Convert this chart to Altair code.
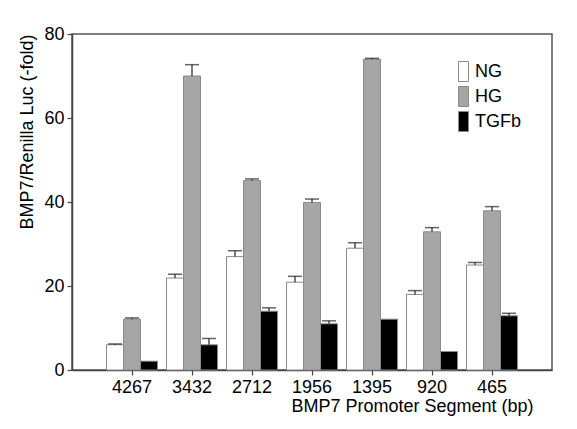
import altair as alt
import pandas as pd

segments = ["4267", "3432", "2712", "1956", "1395", "920", "465"]
groups = ["NG", "HG", "TGFb"]
ng = [6.0, 21.9, 27.0, 20.9, 29.0, 18.0, 25.0]
ng_err = [0.2, 0.9, 1.4, 1.4, 1.3, 0.9, 0.6]
hg = [12.1, 70.0, 45.1, 39.9, 74.0, 32.9, 37.9]
hg_err = [0.3, 2.7, 0.4, 0.8, 0.2, 1.0, 1.0]
tgfb = [2.1, 6.0, 14.0, 11.0, 12.1, 4.4, 12.9]
tgfb_err = [0.0, 1.5, 0.8, 0.7, 0.0, 0.0, 0.6]
fills = ["#ffffff", "#a6a6a6", "#000000"]
y_ticks = [0, 20, 40, 60, 80]

rows = []
for g, vals, errs in [("NG", ng, ng_err), ("HG", hg, hg_err), ("TGFb", tgfb, tgfb_err)]:
    for s, v, e in zip(segments, vals, errs):
        rows.append({"segment": s, "group": g, "value": v, "top": v + e, "err": e})
df = pd.DataFrame(rows)

FONT = "Liberation Sans"

x_enc = alt.X(
    "segment:N",
    sort=segments,
    scale=alt.Scale(paddingInner=0.15, paddingOuter=0.575),
    axis=alt.Axis(
        title="BMP7 Promoter Segment (bp)",
        labelAngle=0,
        tickSize=5,
        labelPadding=3,
        titleX=461,
        titleAlign="right",
        titlePadding=1,
    ),
)
xo = alt.XOffset("group:N", sort=groups, scale=alt.Scale(paddingInner=0, paddingOuter=0))

base = alt.Chart(df)

bars = base.mark_bar(stroke="#8a8a8a", strokeWidth=1).encode(
    x=x_enc,
    xOffset=xo,
    y=alt.Y(
        "value:Q",
        scale=alt.Scale(domain=[0, 80], nice=False),
        axis=alt.Axis(
            title="BMP7/Renilla Luc (-fold)",
            values=y_ticks,
            tickSize=5,
            labelPadding=3,
            grid=False,
            titleAnchor="end",
            titlePadding=7,
        ),
    ),
    fill=alt.Fill(
        "group:N",
        sort=groups,
        scale=alt.Scale(domain=groups, range=fills),
        legend=alt.Legend(
            title=None,
            orient="none",
            legendX=381,
            legendY=27,
            symbolType="M-0.5,-1H0.5V1H-0.5Z",
            symbolSize=400,
            symbolStrokeColor="#8a8a8a",
            symbolStrokeWidth=1,
            rowPadding=0,
            labelFontSize=18,
            labelFont=FONT,
            labelColor="#000000",
            labelOffset=1,
            padding=0,
        ),
    ),
)

err_df_filter = alt.datum.err > 0

stems = base.mark_rule(color="#222222", strokeWidth=1.2).encode(
    x=alt.X("segment:N", sort=segments),
    xOffset=xo,
    y="value:Q",
    y2="top:Q",
).transform_filter(err_df_filter)

caps = base.mark_tick(color="#222222", thickness=1.5, size=14, orient="horizontal").encode(
    x=alt.X("segment:N", sort=segments),
    xOffset=xo,
    y="top:Q",
).transform_filter(err_df_filter)

chart = (
    alt.layer(bars, stems, caps)
    .properties(width=480, height=336, background="#ffffff", padding={"left": 10, "top": 17, "right": 5, "bottom": 5})
    .configure_view(stroke="#555555", strokeWidth=1.5)
    .configure_axis(
        labelFont=FONT,
        titleFont=FONT,
        labelFontSize=18,
        titleFontSize=18,
        titleFontWeight="normal",
        labelColor="#000000",
        titleColor="#000000",
        domainColor="#444444",
        tickColor="#444444",
        domainWidth=1.5,
        tickWidth=1.2,
    )
)

chart.save("out.html", embed_options={"renderer": "svg", "actions": False})
